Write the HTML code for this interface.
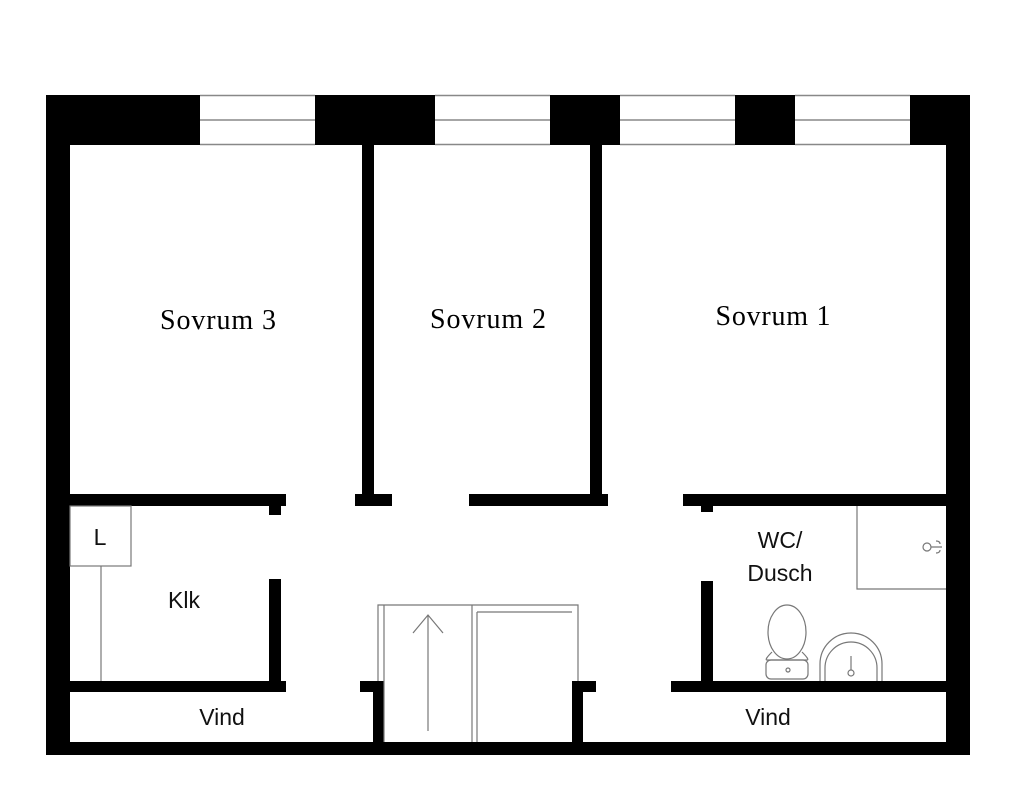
<!DOCTYPE html>
<html><head><meta charset="utf-8"><style>html,body{margin:0;padding:0;background:#fff}svg{display:block}</style></head>
<body>
<svg width="1024" height="796" viewBox="0 0 1024 796" xmlns="http://www.w3.org/2000/svg">
<rect width="1024" height="796" fill="#fff"/>
<g fill="#000">
<rect x="46" y="95" width="154" height="50"/>
<rect x="315" y="95" width="120" height="50"/>
<rect x="550" y="95" width="70" height="50"/>
<rect x="735" y="95" width="60" height="50"/>
<rect x="910" y="95" width="60" height="50"/>
<rect x="46" y="95" width="24" height="660"/>
<rect x="946" y="95" width="24" height="660"/>
<rect x="46" y="742" width="924" height="13"/>
<rect x="362" y="145" width="12" height="356"/>
<rect x="590" y="145" width="12" height="356"/>
<rect x="70" y="494" width="216" height="12"/>
<rect x="269" y="494" width="12" height="21"/>
<rect x="355" y="494" width="37" height="12"/>
<rect x="469" y="494" width="139" height="12"/>
<rect x="683" y="494" width="263" height="12"/>
<rect x="701" y="494" width="12" height="18"/>
<rect x="269" y="579" width="12" height="113"/>
<rect x="70" y="681" width="216" height="11"/>
<rect x="360" y="681" width="24" height="11"/>
<rect x="373" y="681" width="11" height="62"/>
<rect x="572" y="681" width="24" height="11"/>
<rect x="572" y="681" width="11" height="62"/>
<rect x="701" y="581" width="12" height="111"/>
<rect x="671" y="681" width="275" height="11"/>
</g>
<g fill="none" stroke="#888" stroke-width="1.5">
<line x1="200" y1="95.5" x2="315" y2="95.5"/><line x1="200" y1="120" x2="315" y2="120"/><line x1="200" y1="144.5" x2="315" y2="144.5"/>
<line x1="435" y1="95.5" x2="550" y2="95.5"/><line x1="435" y1="120" x2="550" y2="120"/><line x1="435" y1="144.5" x2="550" y2="144.5"/>
<line x1="620" y1="95.5" x2="735" y2="95.5"/><line x1="620" y1="120" x2="735" y2="120"/><line x1="620" y1="144.5" x2="735" y2="144.5"/>
<line x1="795" y1="95.5" x2="910" y2="95.5"/><line x1="795" y1="120" x2="910" y2="120"/><line x1="795" y1="144.5" x2="910" y2="144.5"/>
</g>
<g fill="none" stroke="#777" stroke-width="1.2">
<rect x="70" y="506" width="61" height="60"/>
<line x1="101" y1="566" x2="101" y2="681"/>
<polyline points="378,681 378,605 578,605 578,681"/>
<line x1="384" y1="605" x2="384" y2="742"/>
<line x1="472" y1="605" x2="472" y2="742"/>
<line x1="477" y1="742" x2="477" y2="612"/>
<line x1="477" y1="612" x2="572" y2="612"/>
<line x1="428" y1="615" x2="428" y2="731"/>
<polyline points="413,633 428,615 443,633"/>
<polyline points="857,506 857,589 946,589"/>
<circle cx="927" cy="547" r="4"/>
<path d="M931 547 H942 M936 541 q4 0 4 3 M936 553 q4 0 4 -3"/>
<ellipse cx="787" cy="632" rx="19" ry="27"/>
<path d="M772 652 q-8 8 -5 8 h40 q3 0 -5 -8"/>
<rect x="766" y="660" width="42" height="19" rx="5"/>
<circle cx="788" cy="670" r="2"/>
<path d="M820 681 V664 a31 31 0 0 1 62 0 V681"/>
<path d="M825 681 V668 a26 26 0 0 1 52 0 V681"/>
<line x1="851" y1="656" x2="851" y2="670"/>
<circle cx="851" cy="673" r="3"/>
</g>
<g font-family="'Liberation Serif',serif" font-size="28" fill="#000" text-anchor="middle">
<text x="218" y="329" textLength="116">Sovrum 3</text>
<text x="488" y="328" textLength="116">Sovrum 2</text>
<text x="773" y="325" textLength="115">Sovrum 1</text>
</g>
<g font-family="'Liberation Sans','DejaVu Sans',sans-serif" font-size="23" fill="#111" text-anchor="middle">
<text x="100" y="545">L</text>
<text x="184" y="608">Klk</text>
<text x="222" y="725">Vind</text>
<text x="768" y="725">Vind</text>
<text x="780" y="548">WC/</text>
<text x="780" y="581">Dusch</text>
</g>
</svg>
</body></html>
